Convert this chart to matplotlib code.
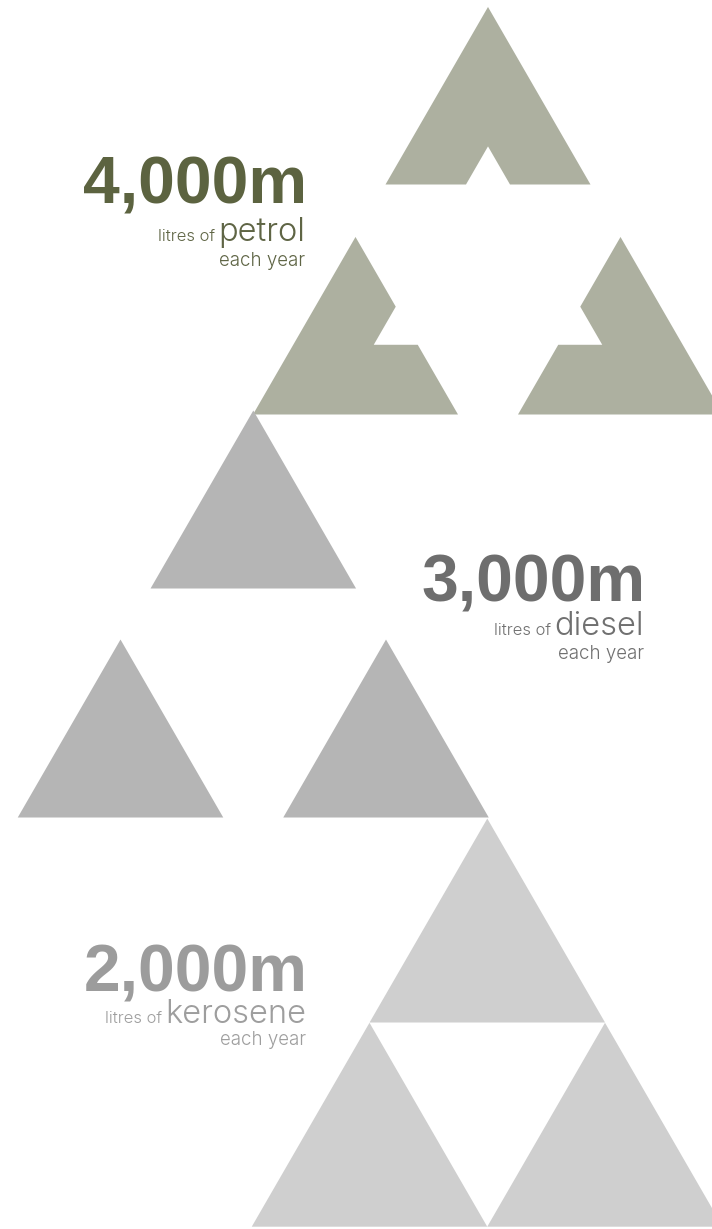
import numpy as np
import matplotlib.pyplot as plt
from matplotlib.patches import Polygon

# data
fuels = ['petrol', 'diesel', 'kerosene']
amounts = ['4,000m', '3,000m', '2,000m']
n_triangles = [3, 3, 3]

# styles
tri_colors = ['#adb0a0', '#b5b5b5', '#cfcfcf']
num_colors = ['#5c6340', '#6e6e6e', '#9c9c9c']
sub_colors = ['#5f6545', '#707070', '#9e9e9e']

# layout in pixel space (base centre x, base y), side length
tri_layout = [
    [(488, 184.5), (355.5, 414.5), (620.5, 414.5)],
    [(253.3, 588.5), (120.5, 817.5), (386, 817.5)],
    [(487.3, 1022.5), (369.5, 1226.7), (605, 1226.7)],
]
tri_side = [205, 205.5, 235.5]
# which edge carries the notch on the petrol triangles
petrol_notch = ['bottom', 'right', 'left']
notch_side = 44

# right edge, baselines of number / fuel line / "each year"
text_pos = [(305, 204, 241, 266), (644, 602, 635, 659), (306, 992, 1023, 1045)]

W, H = 712, 1229
fig = plt.figure(figsize=(W / 100, H / 100), dpi=100)
ax = fig.add_axes([0, 0, 1, 1])
ax.set_xlim(0, W)
ax.set_ylim(H, 0)
ax.axis('off')


def triangle(cx, by, s, notch=None):
    h = s * np.sqrt(3) / 2
    A = np.array([cx, by - h])
    BL = np.array([cx - s / 2, by])
    BR = np.array([cx + s / 2, by])
    if notch is None:
        return [A, BR, BL]
    nh = notch_side * np.sqrt(3) / 2
    half = notch_side / 2 / s
    if notch == 'bottom':
        q1 = np.array([cx - notch_side / 2, by])
        q2 = np.array([cx + notch_side / 2, by])
        qa = np.array([cx, by - nh])
        return [A, BR, q2, qa, q1, BL]
    if notch == 'right':
        p1 = A + (0.5 - half) * (BR - A)
        p2 = A + (0.5 + half) * (BR - A)
        inner = p2 - np.array([notch_side, 0])
        return [A, p1, inner, p2, BR, BL]
    # left edge
    p1 = A + (0.5 - half) * (BL - A)
    p2 = A + (0.5 + half) * (BL - A)
    inner = p2 + np.array([notch_side, 0])
    return [A, BR, BL, p2, inner, p1]


for i, fuel in enumerate(fuels):
    for j, (cx, by) in enumerate(tri_layout[i][:n_triangles[i]]):
        notch = petrol_notch[j] if fuel == 'petrol' else None
        ax.add_patch(Polygon(triangle(cx, by, tri_side[i], notch), closed=True,
                             facecolor=tri_colors[i], edgecolor='none'))

fig.canvas.draw()
for i, fuel in enumerate(fuels):
    xr, y_num, y_fuel, y_each = text_pos[i]
    ax.text(xr + 2, y_num, amounts[i], ha='right', va='baseline', fontsize=47.5,
            fontweight='bold', family='Liberation Sans', color=num_colors[i])
    t = ax.text(xr, y_fuel, fuel, ha='right', va='baseline', fontsize=23.5,
                family='Inter', fontweight=300, color=sub_colors[i])
    fig.canvas.draw()
    bb = t.get_window_extent()
    x_left = ax.transData.inverted().transform((bb.x0, bb.y0))[0]
    ax.text(x_left - 3, y_fuel, 'litres of', ha='right', va='baseline', fontsize=12,
            family='Inter', fontweight=300, color=sub_colors[i])
    ax.text(xr, y_each, 'each year', ha='right', va='baseline', fontsize=13.5,
            family='Inter', fontweight=300, color=sub_colors[i])

fig.savefig('out.png', dpi=100, facecolor='white')
